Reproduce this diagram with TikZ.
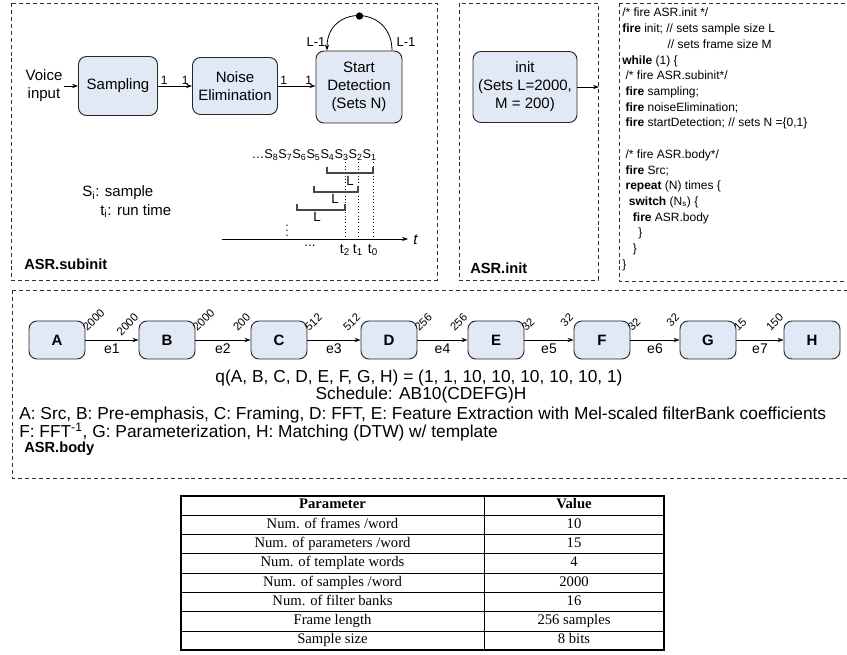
\documentclass[tikz,border=0pt]{standalone}
\usepackage{fontspec}
\setmainfont{Liberation Sans}
\newfontfamily\tabfont{Liberation Serif}
\usetikzlibrary{arrows.meta,calc}

\definecolor{boxfill}{RGB}{226,233,246}
\definecolor{framegray}{RGB}{50,50,50}
\definecolor{brackgray}{RGB}{70,70,70}

\begin{document}
\begin{tikzpicture}[x=0.75pt,y=-0.75pt,
  font=\fontsize{11.25}{13.5}\selectfont,
  region/.style={draw=framegray, dash pattern=on 3pt off 2.2pt, line width=0.7pt},
  block/.style={draw=black!85, fill=boxfill, rounded corners=6pt, line width=0.7pt,
                align=center, inner sep=0pt},
  smallblock/.style={block, minimum width=42pt, minimum height=28.5pt,
                font=\fontsize{11.25}{13.5}\selectfont\bfseries},
  flow/.style={-{Stealth[length=4.5pt,width=3.2pt]}, line width=0.6pt},
  rate/.style={font=\fontsize{9}{10}\selectfont, inner sep=1pt},
  wlab/.style={font=\fontsize{8.5}{9}\selectfont, rotate=45, inner sep=0.5pt},
  elab/.style={font=\fontsize{10.5}{12}\selectfont, inner sep=1pt},
  brack/.style={draw=brackgray, line width=0.9pt},
  tline/.style={dotted, line width=0.5pt},
  title/.style={font=\fontsize{11}{13}\selectfont\bfseries, anchor=west, inner sep=0pt},
  codetext/.style={font=\fontsize{9}{11.78}\selectfont, align=left, anchor=north west, inner sep=0pt},
  bodytext/.style={font=\fontsize{13}{15}\selectfont, inner sep=0pt},
  tabtext/.style={font=\tabfont\fontsize{11}{12}\selectfont, inner sep=0pt}
]
\useasboundingbox (0,0) rectangle (847,655);

% ---------------- dashed regions ----------------
\draw[region] (11,3) rectangle (437,280);
\draw[region] (459,3) rectangle (598,280);
\draw[region] (619,3) -- (619,281) -- (852,281);
\draw[region] (619,3) -- (852,3);
\draw[region] (12,290) -- (12,478) -- (852,478);
\draw[region] (12,290) -- (852,290);

% ---------------- ASR.subinit ----------------
\node[align=center, inner sep=1pt] (voice) at (44,86) {Voice\\input};
\node[block, minimum width=59.25pt, minimum height=44.25pt] (samp) at (118,86) {Sampling};
\node[block, minimum width=63.75pt, minimum height=42.75pt] (noise) at (235,86) {Noise\\Elimination};
\node[block, minimum width=64.5pt, minimum height=54pt] (start) at (359,87) {Start\\Detection\\(Sets N)};

\draw[flow] (voice.east |- samp.west) -- (samp.west);
\draw[flow] (samp.east) -- (samp.east -| noise.west)
  node[rate, pos=0.18, above] {1} node[rate, pos=0.8, above] {1};
\draw[flow] (noise.east) -- (noise.east -| start.west)
  node[rate, pos=0.15, above] {1} node[rate, pos=0.82, above] {1};

% self loop of the start detector, with its delay token
\coordinate (loopout) at ($(start.north)+(33,0)$);
\coordinate (loopin) at ($(start.north)+(-32,0)$);
\draw[flow] (loopout) .. controls ($(loopout)+(0,-46)$) and ($(loopin)+(0,-46)$) .. (loopin);
\node[circle, fill=black, inner sep=0pt, minimum size=5.5pt] (token) at ($(start.north)+(0.5,-34.5)$) {};
\node[rate, font=\fontsize{9.75}{11}\selectfont] (lin) at (316,42) {L-1};
\node[rate, font=\fontsize{9.75}{11}\selectfont] (lout) at (406,42) {L-1};

% sample stream and windows on the time axis
\node[anchor=east, inner sep=0pt, font=\fontsize{9.5}{11}\selectfont] (stream) at (377,155)
  {…S\textsubscript{8}S\textsubscript{7}S\textsubscript{6}S\textsubscript{5}S\textsubscript{4}S\textsubscript{3}S\textsubscript{2}S\textsubscript{1}};

\coordinate (axl) at (222,239);
\coordinate (axr) at (408,239);
\draw[flow] (axl) -- (axr);
\node[anchor=west, inner sep=0pt, font=\fontsize{11.25}{13}\selectfont\itshape] (tlab) at (413,240) {t};

\foreach \xx/\nm/\ii in {345/ttwo/2, 358/tone/1, 373/tzero/0}{
  \coordinate (\nm top) at (\xx,159);
  \coordinate (\nm bot) at (\xx,240);
  \draw[tline] (\nm top) -- (\nm bot);
  \node[inner sep=0pt, font=\fontsize{10.5}{12}\selectfont] (\nm) at (\xx,250) {t\textsubscript{\ii}};
}

\draw[brack] (327,167) -- (327,173) -- (373,173) -- (373,167);
\draw[brack] (314,186) -- (314,192) -- (358,192) -- (358,186);
\draw[brack] (297,204) -- (297,210) -- (345,210) -- (345,204);
\node[inner sep=0pt, font=\fontsize{10}{12}\selectfont] (lone) at (350,181) {L};
\node[inner sep=0pt, font=\fontsize{10}{12}\selectfont] (ltwo) at (335,199) {L};
\node[inner sep=0pt, font=\fontsize{10}{12}\selectfont] (lthree) at (317,217) {L};
\node[inner sep=0pt, font=\fontsize{9}{10}\selectfont] (vd) at (287,227) {$\vdots$};
\node[inner sep=0pt, font=\fontsize{10}{12}\selectfont] (hd) at (310,246) {...};

\node[anchor=west, inner sep=0pt] (sdef) at (82,193) {S\textsubscript{i}: sample};
\node[anchor=west, inner sep=0pt] (tdef) at (100,211) {t\textsubscript{i}: run time};

\node[title] (subtitle) at (24,264) {ASR.subinit};

% ---------------- ASR.init ----------------
\node[block, minimum width=78pt, minimum height=53.25pt] (init) at (525,87) {init\\(Sets L=2000,\\M = 200)};
\coordinate (initout) at (599,87);
\draw[flow] (init.east) -- (initout);
\node[title] (inittitle) at (470,268) {ASR.init};

% ---------------- firing program ----------------
\node[codetext] (code) at (622,8) {%
/* fire ASR.init */\\
\textbf{fire} init; // sets sample size L\\
\hspace*{34pt}// sets frame size M\\
\textbf{while} (1) \{\\
\hspace*{2.5pt}/* fire ASR.subinit*/\\
\hspace*{2.5pt}\textbf{fire} sampling;\\
\hspace*{2.5pt}\textbf{fire} noiseElimination;\\
\hspace*{2.5pt}\textbf{fire} startDetection; // sets N =\{0,1\}\\
\strut\\
\hspace*{2.5pt}/* fire ASR.body*/\\
\hspace*{2.5pt}\textbf{fire} Src;\\
\hspace*{2.5pt}\textbf{repeat} (N) times \{\\
\hspace*{5pt}\textbf{switch} (N\textsubscript{s}) \{\\
\hspace*{8pt}\textbf{fire} ASR.body\\
\hspace*{12pt}\}\\
\hspace*{8pt}\}\\
\}};

% ---------------- ASR.body ----------------
\foreach \nm/\xx in {A/57, B/167, C/279, D/389, E/496, F/602, G/708, H/812}{
  \node[smallblock] (\nm) at (\xx,340) {\nm};
}
\foreach \src/\dst/\el/\wsrc/\wdst in {A/B/e1/2000/2000, B/C/e2/2000/200, C/D/e3/512/512,
                                  D/E/e4/256/256, E/F/e5/32/32, F/G/e6/32/32, G/H/e7/15/150}{
  \draw[flow] (\src.east) -- (\dst.west) node[elab, midway, below=1.5pt] {\el};
  \node[wlab, anchor=south west] at ($(\src.east)+(2,-7)$) {\wsrc};
  \node[wlab, anchor=south east] at ($(\dst.north west)+(2,-2)$) {\wdst};
}

\node[bodytext] (qvec) at (419,378)
  {q(A, B, C, D, E, F, G, H) = (1, 1, 10, 10, 10, 10, 10, 1)};
\node[bodytext] (sched) at (421,395)
  {Schedule: AB10(CDEFG)H};
\node[bodytext, anchor=west] (legA) at (19,415)
  {A: Src, B: Pre-emphasis, C: Framing, D: FFT, E: Feature Extraction with Mel-scaled filterBank coefficients};
\node[bodytext, anchor=west] (legF) at (19,432)
  {F: FFT\textsuperscript{-1}, G: Parameterization, H: Matching (DTW) w/ template};
\node[title] (bodytitle) at (24,449) {ASR.body};

% ---------------- parameter table ----------------
\def\tabL{181}\def\tabM{484}\def\tabR{664}
\def\tabT{496}\def\tabH{19.3}
\draw[line width=0.9pt] (\tabL,\tabT) rectangle (\tabR,{\tabT+8*\tabH});
\draw[line width=1.4pt] (\tabL,{\tabT+8*\tabH}) -- (\tabR,{\tabT+8*\tabH});
\draw[line width=0.6pt] (\tabM,\tabT) -- (\tabM,{\tabT+8*\tabH});
\foreach \k in {1,...,7}{
  \draw[line width=0.6pt] (\tabL,{\tabT+\k*\tabH}) -- (\tabR,{\tabT+\k*\tabH});
}
\foreach \k/\pa/\va in {0/{\textbf{Parameter}}/{\textbf{Value}},
    1/{Num. of frames /word}/10,
    2/{Num. of parameters /word}/15,
    3/{Num. of template words}/4,
    4/{Num. of samples /word}/2000,
    5/{Num. of filter banks}/16,
    6/{Frame length}/{256 samples},
    7/{Sample size}/{8 bits}}{
  \node[tabtext] (p\k) at ({(\tabL+\tabM)/2},{\tabT+(\k+0.5)*\tabH}) {\strut\pa};
  \node[tabtext] (v\k) at ({(\tabM+\tabR)/2},{\tabT+(\k+0.5)*\tabH}) {\strut\va};
}
\end{tikzpicture}
\end{document}
